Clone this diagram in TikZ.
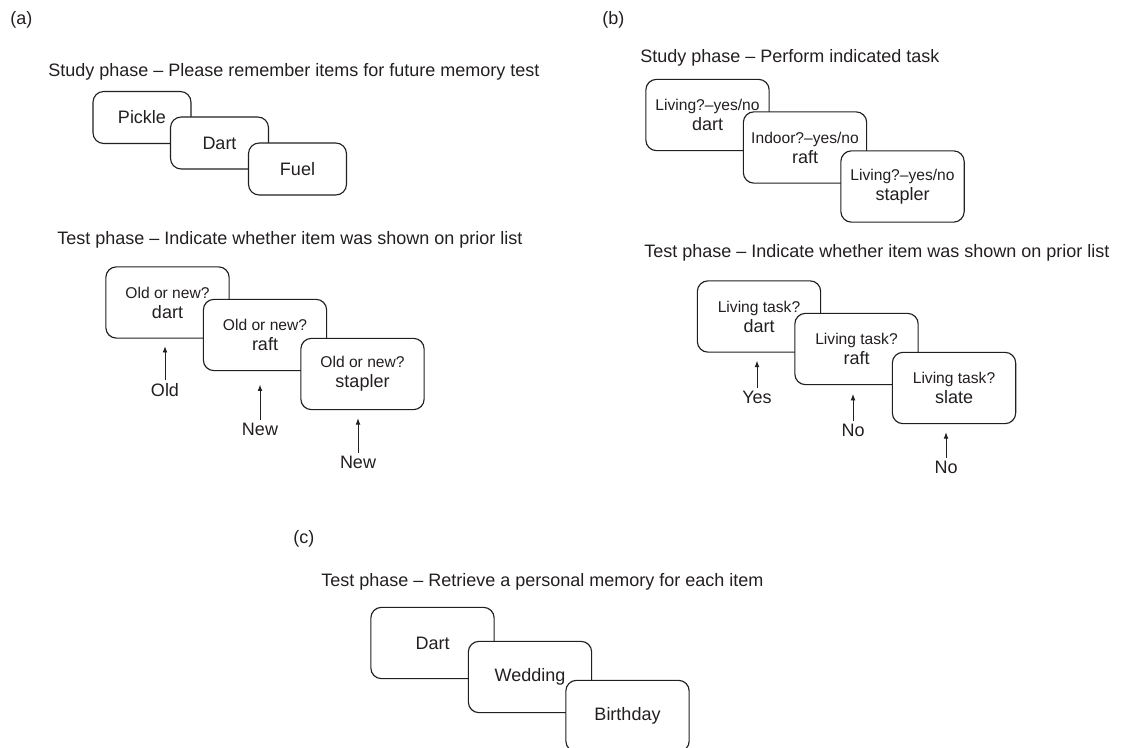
\documentclass[tikz,border=0pt]{standalone}
\usepackage{fontspec}
\setmainfont{Liberation Sans}
\usepackage{tikz}
\usetikzlibrary{positioning, arrows.meta}
\definecolor{ink}{RGB}{35, 31, 32}
\newcommand{\mainsize}{\fontsize{13.5}{15}\selectfont}
\newcommand{\qsize}{\fontsize{11.7}{15}\selectfont}
\tikzset{
  card/.style={draw=ink, fill=white, rounded corners=8pt, line width=0.85pt,
    align=center, inner sep=0pt},
  smallcard/.style={card, minimum width=73.5pt, minimum height=39pt},
  bigcard/.style={card, minimum width=92.5pt, minimum height=53.5pt},
  heading/.style={anchor=base west, inner sep=0pt},
  answer/.style={inner sep=2pt}
}

\begin{document}
\begin{tikzpicture}[x=0.75pt, y=-0.75pt, font=\mainsize, text=ink,
    >={Latex[length=4.8pt, width=3.6pt]}]
  \useasboundingbox (0,0) rectangle (1137,748);

  % (a) study and test
  \node[heading] (labA) at (10,25) {(a)};
  \node[heading] (studyA) at (48,77) {Study phase -- Please remember items for future memory test};
  \foreach \name/\x/\y/\word in {pickle/142/117.5/Pickle, dartS/219.5/143/Dart, fuel/297.5/169/Fuel}{
    \node[smallcard] (\name) at (\x,\y) {\word};
  }
  \node[heading] (testA) at (57,245) {Test phase -- Indicate whether item was shown on prior list};
  \foreach \name/\x/\y/\word in {dartT/167.5/302.5/dart, raftT/265/335/raft, staplerT/362.5/374/stapler}{
    \node[bigcard] (\name) at (\x,\y) {{\qsize Old or new?}\\\word};
  }
  \node[answer] (ansOld) at (165,390) {Old};
  \node[answer] (ansNew1) at (260,429) {New};
  \node[answer] (ansNew2) at (358,462) {New};

  % (b) study and test
  \node[heading] (labB) at (602,25) {(b)};
  \node[heading] (studyB) at (640,63) {Study phase -- Perform indicated task};
  \node[bigcard] (dartB) at (707.5,115) {{\qsize Living?--yes/no}\\dart};
  \node[bigcard] (raftB) at (805,147.5) {{\qsize Indoor?--yes/no}\\raft};
  \node[bigcard] (staplerB) at (902.5,186.5) {{\qsize Living?--yes/no}\\stapler};
  \node[heading] (testB) at (644,258) {Test phase -- Indicate whether item was shown on prior list};
  \foreach \name/\x/\y/\word in {dartLT/759/316.5/dart, raftLT/856.5/349/raft, slate/954/388/slate}{
    \node[bigcard] (\name) at (\x,\y) {{\qsize Living task?}\\\word};
  }
  \node[answer] (ansYes) at (757,397) {Yes};
  \node[answer] (ansNo1) at (853,430) {No};
  \node[answer] (ansNo2) at (946,467) {No};

  \foreach \lbl/\tgt/\gap in {ansOld/dartT/5.5, ansNew1/raftT/10, ansNew2/staplerT/6,
                              ansYes/dartLT/6, ansNo1/raftLT/6.5, ansNo2/slate/6}{
    \draw[->, ink, line width=0.7pt, shorten >=\gap pt] (\lbl) -- (\tgt.south -| \lbl);
  }

  % (c) test
  \node[heading] (labC) at (293,543) {(c)};
  \node[heading] (testC) at (321,586) {Test phase -- Retrieve a personal memory for each item};
  \foreach \name/\x/\y/\word in {dartC/432.5/643/Dart, wedding/530/677/Wedding, birthday/627.5/716/Birthday}{
    \node[bigcard] (\name) at (\x,\y) {\word};
  }
\end{tikzpicture}
\end{document}
